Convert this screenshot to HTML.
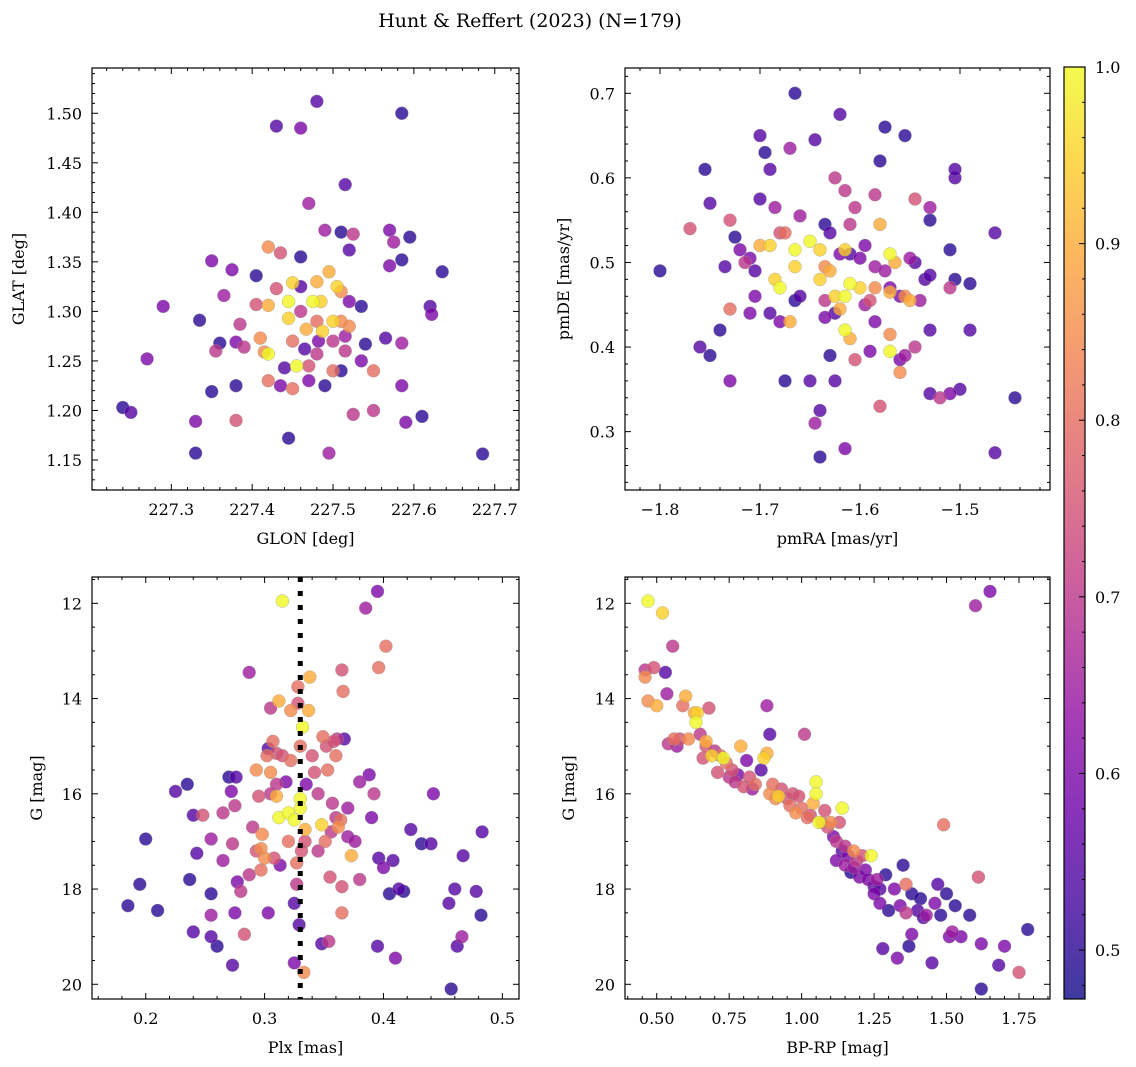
<!DOCTYPE html>
<html><head><meta charset="utf-8"><style>
html,body{margin:0;padding:0;background:#fff;}
svg{display:block;font-family:"DejaVu Serif","Liberation Serif",serif;}
text{font-family:"DejaVu Serif","Liberation Serif",serif;}
</style></head><body>
<svg id="fig" width="1136" height="1067" viewBox="0 0 1136 1067" xmlns="http://www.w3.org/2000/svg">
<defs><linearGradient id="cbg" x1="0" y1="1" x2="0" y2="0"></linearGradient></defs>
<text x="530" y="27" text-anchor="middle" font-size="19">Hunt &amp; Reffert (2023) (N=179)</text>
</svg>
<script>
// ---- data: [x, y, membership probability] ----
const glonGlat = [[227.24,1.203,.5],[227.25,1.198,.55],[227.27,1.252,.6],[227.29,1.305,.6],[227.33,1.189,.6],[227.33,1.157,.5],[227.335,1.291,.5],[227.35,1.351,.6],[227.35,1.219,.5],[227.355,1.26,.7],[227.36,1.268,.5],[227.365,1.316,.65],[227.375,1.342,.6],[227.38,1.19,.75],[227.38,1.225,.5],[227.38,1.269,.6],[227.385,1.287,.7],[227.39,1.264,.7],[227.405,1.307,.75],[227.405,1.336,.5],[227.41,1.273,.85],[227.415,1.259,.85],[227.42,1.23,.8],[227.42,1.306,.9],[227.42,1.365,.85],[227.42,1.257,1.0],[227.43,1.487,.55],[227.43,1.323,.75],[227.435,1.225,.6],[227.435,1.359,.75],[227.44,1.243,.55],[227.445,1.172,.5],[227.445,1.293,.95],[227.445,1.31,1.0],[227.45,1.329,.95],[227.45,1.27,.8],[227.45,1.222,.8],[227.455,1.245,1.0],[227.46,1.485,.6],[227.46,1.355,.5],[227.46,1.30,.7],[227.46,1.325,.55],[227.465,1.262,.55],[227.467,1.282,.9],[227.47,1.409,.65],[227.47,1.23,.6],[227.47,1.245,.75],[227.475,1.31,1.0],[227.48,1.512,.55],[227.48,1.257,.7],[227.48,1.29,.8],[227.48,1.33,.9],[227.482,1.27,.6],[227.485,1.31,.95],[227.487,1.28,.95],[227.49,1.382,.65],[227.49,1.225,.5],[227.495,1.157,.65],[227.495,1.34,.9],[227.5,1.27,.7],[227.5,1.29,.95],[227.5,1.24,.8],[227.51,1.32,.85],[227.505,1.325,.95],[227.515,1.275,.65],[227.515,1.26,.7],[227.52,1.362,.55],[227.52,1.31,.6],[227.52,1.285,.85],[227.51,1.29,.85],[227.51,1.38,.5],[227.51,1.24,.5],[227.515,1.428,.55],[227.525,1.378,.7],[227.525,1.196,.7],[227.535,1.305,.5],[227.535,1.25,.6],[227.54,1.267,.5],[227.55,1.24,.8],[227.55,1.20,.7],[227.565,1.273,.55],[227.57,1.346,.6],[227.57,1.382,.6],[227.575,1.37,.65],[227.585,1.50,.5],[227.585,1.352,.5],[227.585,1.225,.6],[227.585,1.268,.65],[227.59,1.188,.6],[227.595,1.375,.5],[227.61,1.194,.5],[227.62,1.305,.55],[227.622,1.297,.6],[227.635,1.34,.5],[227.685,1.156,.5]];

const pmraPmde = [[-1.80,0.49,.5],[-1.77,0.54,.75],[-1.755,0.61,.5],[-1.76,0.40,.55],[-1.75,0.39,.5],[-1.75,0.57,.55],[-1.74,0.42,.5],[-1.735,0.495,.55],[-1.73,0.445,.8],[-1.73,0.55,.75],[-1.73,0.36,.6],[-1.725,0.53,.5],[-1.72,0.515,.6],[-1.715,0.50,.7],[-1.71,0.505,.6],[-1.705,0.46,.6],[-1.705,0.49,.55],[-1.71,0.44,.6],[-1.70,0.65,.55],[-1.695,0.63,.5],[-1.69,0.61,.55],[-1.69,0.52,.95],[-1.70,0.52,.9],[-1.69,0.44,.55],[-1.685,0.48,.95],[-1.70,0.575,.55],[-1.68,0.43,.6],[-1.68,0.47,1.0],[-1.685,0.565,.65],[-1.68,0.535,.75],[-1.675,0.36,.5],[-1.675,0.535,.8],[-1.665,0.495,.95],[-1.67,0.635,.65],[-1.67,0.43,.9],[-1.665,0.515,1.0],[-1.66,0.555,.65],[-1.665,0.70,.5],[-1.66,0.46,.55],[-1.665,0.455,.5],[-1.65,0.36,.55],[-1.65,0.525,1.0],[-1.64,0.515,.95],[-1.645,0.645,.55],[-1.645,0.31,.65],[-1.64,0.48,.95],[-1.635,0.495,.85],[-1.64,0.325,.55],[-1.635,0.545,.5],[-1.635,0.455,.7],[-1.64,0.27,.5],[-1.635,0.435,.6],[-1.63,0.49,.9],[-1.63,0.535,.55],[-1.625,0.46,.95],[-1.625,0.44,.55],[-1.625,0.60,.7],[-1.62,0.445,.9],[-1.62,0.51,.6],[-1.615,0.46,1.0],[-1.63,0.39,.5],[-1.625,0.36,.55],[-1.615,0.515,.95],[-1.62,0.675,.55],[-1.615,0.585,.7],[-1.61,0.545,.7],[-1.61,0.51,.55],[-1.61,0.475,1.0],[-1.615,0.42,1.0],[-1.61,0.41,.9],[-1.615,0.28,.6],[-1.605,0.385,.75],[-1.605,0.565,.7],[-1.60,0.505,.6],[-1.60,0.47,.95],[-1.595,0.45,.65],[-1.595,0.52,.6],[-1.59,0.455,.75],[-1.59,0.395,.6],[-1.585,0.47,.85],[-1.585,0.43,.6],[-1.585,0.495,.65],[-1.58,0.545,.9],[-1.585,0.58,.7],[-1.58,0.62,.5],[-1.575,0.66,.5],[-1.58,0.33,.75],[-1.575,0.49,.65],[-1.57,0.465,.9],[-1.57,0.47,.6],[-1.57,0.415,.85],[-1.57,0.51,1.0],[-1.57,0.395,1.0],[-1.565,0.50,.9],[-1.56,0.46,.6],[-1.56,0.385,.6],[-1.56,0.37,.85],[-1.555,0.39,.65],[-1.555,0.46,.85],[-1.555,0.65,.5],[-1.55,0.505,.65],[-1.55,0.455,.9],[-1.545,0.50,.55],[-1.545,0.40,.7],[-1.545,0.575,.75],[-1.54,0.455,.65],[-1.535,0.48,.55],[-1.53,0.42,.55],[-1.53,0.345,.55],[-1.52,0.34,.7],[-1.53,0.55,.5],[-1.53,0.565,.65],[-1.53,0.485,.55],[-1.51,0.345,.6],[-1.505,0.48,.5],[-1.51,0.47,.7],[-1.51,0.515,.5],[-1.505,0.60,.55],[-1.505,0.61,.55],[-1.50,0.35,.55],[-1.49,0.42,.55],[-1.49,0.475,.5],[-1.465,0.535,.55],[-1.465,0.275,.55],[-1.445,0.34,.5]];

const plxG = [[0.185,18.35,.5],[0.195,17.9,.5],[0.20,16.95,.5],[0.21,18.45,.5],[0.225,15.95,.55],[0.235,15.8,.5],[0.237,17.8,.5],[0.24,16.45,.55],[0.24,18.9,.55],[0.243,17.25,.55],[0.248,16.45,.75],[0.255,16.95,.65],[0.255,18.1,.5],[0.255,18.55,.65],[0.255,19.0,.55],[0.26,19.2,.5],[0.265,17.4,.65],[0.265,16.4,.7],[0.27,15.65,.5],[0.272,15.95,.6],[0.273,17.05,.7],[0.275,16.25,.7],[0.276,15.65,.55],[0.277,17.85,.6],[0.275,18.5,.6],[0.273,19.6,.55],[0.28,18.05,.7],[0.283,18.95,.75],[0.287,13.45,.65],[0.287,17.7,.7],[0.29,16.7,.7],[0.293,17.2,.75],[0.293,15.5,.85],[0.295,16.05,.75],[0.297,17.6,.8],[0.297,17.15,.85],[0.298,16.85,.85],[0.30,17.35,.85],[0.302,15.2,.8],[0.303,15.05,.55],[0.305,14.2,.7],[0.303,18.5,.6],[0.305,15.55,.85],[0.305,16.0,.7],[0.307,14.9,.8],[0.308,17.35,.75],[0.31,15.8,.7],[0.31,15.15,.75],[0.31,16.05,.9],[0.312,14.05,.9],[0.312,16.5,1.0],[0.313,17.5,.6],[0.315,15.2,.75],[0.315,11.95,1.0],[0.318,15.75,.6],[0.32,16.4,1.0],[0.32,17.0,.8],[0.322,14.25,.85],[0.322,15.3,.8],[0.325,16.55,1.0],[0.325,18.3,.55],[0.325,19.55,.6],[0.327,17.45,.8],[0.327,17.9,.7],[0.328,14.1,.75],[0.328,13.75,.8],[0.329,18.75,.55],[0.33,15.0,.8],[0.33,16.1,1.0],[0.33,16.3,1.0],[0.331,17.2,.75],[0.332,14.6,1.0],[0.333,19.75,.85],[0.334,17.0,.75],[0.334,16.75,.9],[0.335,15.8,.6],[0.337,14.25,.9],[0.338,13.55,.9],[0.34,15.2,.75],[0.342,15.55,.75],[0.345,17.2,.7],[0.345,16.0,.7],[0.348,16.65,.95],[0.348,19.15,.55],[0.349,14.8,.8],[0.351,17.0,.8],[0.352,15.0,.75],[0.353,15.5,.8],[0.354,19.1,.7],[0.355,17.75,.75],[0.356,16.8,.7],[0.357,16.2,.7],[0.358,14.9,.75],[0.36,16.5,.7],[0.36,15.2,.8],[0.361,14.85,.7],[0.362,16.7,.85],[0.364,16.55,.8],[0.365,17.95,.75],[0.365,18.5,.8],[0.365,13.4,.75],[0.366,13.85,.8],[0.367,14.85,.55],[0.37,16.3,.65],[0.37,16.9,.65],[0.373,17.3,.9],[0.376,17.0,.65],[0.38,17.8,.7],[0.38,15.75,.65],[0.385,12.1,.65],[0.388,15.6,.6],[0.39,16.5,.6],[0.392,16.0,.7],[0.395,11.75,.6],[0.396,17.35,.55],[0.396,13.35,.8],[0.395,19.2,.55],[0.40,17.55,.6],[0.402,12.9,.8],[0.405,18.1,.5],[0.408,17.4,.55],[0.41,19.45,.6],[0.413,18.0,.55],[0.417,18.05,.5],[0.423,16.75,.55],[0.432,17.05,.5],[0.44,17.05,.55],[0.442,16.0,.6],[0.455,18.3,.55],[0.457,20.1,.5],[0.46,18.0,.55],[0.462,19.2,.55],[0.466,19.0,.65],[0.467,17.3,.55],[0.478,18.05,.55],[0.482,18.55,.5],[0.483,16.8,.55]];
const plxRef = 0.33;

const bprpG = [[0.46,13.55,.85],[0.46,13.4,.7],[0.47,14.05,.85],[0.47,11.95,1.0],[0.49,13.35,.75],[0.50,14.15,.9],[0.52,12.2,.95],[0.53,13.45,.55],[0.535,13.9,.65],[0.54,14.95,.7],[0.555,12.9,.7],[0.56,14.85,.8],[0.57,15.0,.65],[0.58,14.85,.75],[0.59,14.15,.8],[0.60,13.95,.9],[0.61,14.85,.85],[0.63,14.3,.9],[0.635,14.5,1.0],[0.64,14.3,.95],[0.65,14.75,.7],[0.66,15.25,.75],[0.67,15.0,.75],[0.67,14.9,.9],[0.68,14.2,.75],[0.69,15.2,.95],[0.70,15.1,.7],[0.71,15.55,.75],[0.72,15.2,.8],[0.73,15.25,1.0],[0.74,15.35,.8],[0.75,15.65,.7],[0.76,15.5,.75],[0.77,15.75,.7],[0.78,15.6,.6],[0.79,15.0,.9],[0.80,15.85,.75],[0.81,15.3,.6],[0.82,15.65,.75],[0.83,15.9,.65],[0.84,15.8,.8],[0.86,15.5,.55],[0.87,15.25,.95],[0.88,15.15,.9],[0.88,14.15,.65],[0.89,14.75,.55],[0.89,16.0,.85],[0.90,15.8,.8],[0.91,16.1,.85],[0.92,16.05,.95],[0.93,15.9,.75],[0.95,16.1,.75],[0.96,16.25,.8],[0.97,16.0,.75],[0.98,16.4,.85],[0.99,16.05,.75],[1.0,16.3,.8],[1.01,14.75,.7],[1.02,16.5,.8],[1.03,16.45,.75],[1.04,16.2,.9],[1.05,15.75,1.0],[1.05,16.0,1.0],[1.06,16.6,1.0],[1.07,16.6,.8],[1.08,16.35,.75],[1.09,16.7,.75],[1.10,16.6,.85],[1.11,16.9,.6],[1.12,17.0,.7],[1.12,17.4,.6],[1.13,16.6,.75],[1.14,16.3,1.0],[1.14,17.2,.55],[1.15,17.5,.65],[1.15,17.1,.7],[1.16,17.3,.6],[1.17,17.65,.5],[1.18,17.2,.85],[1.18,17.55,.65],[1.19,17.4,.7],[1.20,17.75,.6],[1.21,17.3,.75],[1.22,17.6,.6],[1.23,17.8,.6],[1.24,17.3,1.0],[1.25,17.95,.55],[1.25,18.1,.6],[1.26,17.8,.65],[1.27,18.0,.55],[1.27,18.3,.6],[1.28,19.25,.55],[1.29,17.7,.5],[1.30,18.45,.5],[1.32,18.0,.6],[1.33,19.45,.6],[1.34,18.35,.6],[1.35,17.5,.5],[1.36,17.9,.8],[1.36,18.5,.7],[1.37,19.2,.5],[1.38,18.95,.6],[1.38,18.1,.5],[1.40,18.45,.55],[1.41,18.2,.5],[1.42,18.6,.55],[1.43,18.55,.65],[1.45,19.55,.55],[1.46,18.3,.6],[1.47,17.9,.55],[1.48,18.55,.5],[1.49,16.65,.8],[1.50,18.1,.5],[1.51,19.0,.6],[1.52,18.9,.65],[1.53,18.35,.5],[1.55,19.0,.6],[1.58,18.55,.5],[1.60,12.05,.65],[1.61,17.75,.75],[1.62,20.1,.5],[1.62,19.15,.6],[1.65,11.75,.6],[1.68,19.6,.55],[1.70,19.2,.6],[1.75,19.75,.75],[1.78,18.85,.5]];

const glonTicks = [227.3,227.4,227.5,227.6,227.7];
const glatTicks = [1.15,1.20,1.25,1.30,1.35,1.40,1.45,1.50];
const pmraTicks = [-1.8,-1.7,-1.6,-1.5];
const pmdeTicks = [0.3,0.4,0.5,0.6,0.7];
const plxTicks = [0.2,0.3,0.4,0.5];
const gTicks = [12,14,16,18,20];
const bprpTicks = [0.50,0.75,1.00,1.25,1.50,1.75];
const cbTicks = [0.5,0.6,0.7,0.8,0.9,1.0];
const cMin = 0.4723, cMax = 1.0;

const NS = 'http://www.w3.org/2000/svg';
const svg = document.getElementById('fig');
function el(tag, attrs, parent){const e=document.createElementNS(NS,tag);for(const k in attrs)e.setAttribute(k,attrs[k]);(parent||svg).appendChild(e);return e;}

const plasma=['#0d0887','#41049d','#6a00a8','#8f0da4','#b12a90','#cc4778','#e16462','#f2844b','#fca636','#fcce25','#f0f921'];
function hex(h){return [1,3,5].map(i=>parseInt(h.substr(i,2),16));}
function cmap(v){let t=(v-cMin)/(cMax-cMin);t=Math.max(0,Math.min(1,t));const s=t*10,i=Math.min(9,Math.floor(s)),f=s-i;const a=hex(plasma[i]),b=hex(plasma[i+1]);return 'rgb('+a.map((c,k)=>Math.round(c+(b[k]-c)*f)).join(',')+')';}

function panel(cfg){
  const {x0,x1,y0,y1,xd,yd,xt,yt,xminor,yminor,xfmt,yfmt,xlabel,ylabel,data,name}=cfg;
  const g=el('g',{});
  
  
  const sx=v=>x0+(v-xd[0])/(xd[1]-xd[0])*(x1-x0);
  const sy=v=>y0+(v-yd[0])/(yd[1]-yd[0])*(y1-y0);
  const pg=el('g',{},g);
  
  
  data.slice().sort((a,b)=>a[2]-b[2]).forEach(d=>{
    const c=el('circle',{cx:sx(d[0]).toFixed(1),cy:sy(d[1]).toFixed(1),r:6.5,fill:cmap(d[2]),'fill-opacity':0.8,stroke:'#999','stroke-width':0.5,'stroke-opacity':0.7},pg);
    
    
  });
  if(cfg.vline!==undefined){
    const l=el('line',{x1:sx(cfg.vline),x2:sx(cfg.vline),y1:y0,y2:y1,stroke:'#000','stroke-width':5,'stroke-dasharray':'5 9'},g);
    
    
  }
  const tk=el('g',{stroke:'#000','stroke-width':1},g);
  const lo=Math.min(xd[0],xd[1]),hi=Math.max(xd[0],xd[1]);
  const xs=xt[1]-xt[0];
  for(let v=xt[0]-xs*5;v<=hi+1e-9;v+=xs/xminor){if(v<lo-1e-9)continue;const p=sx(v);const maj=Math.abs(((v-xt[0])/xs)-Math.round((v-xt[0])/xs))<1e-6;const L=maj?6:3;
    el('line',{x1:p,x2:p,y1:y1,y2:y1-L},tk);el('line',{x1:p,x2:p,y1:y0,y2:y0+L},tk);}
  const ylo=Math.min(yd[0],yd[1]),yhi=Math.max(yd[0],yd[1]);
  const ys=yt[1]-yt[0];
  for(let v=yt[0]-ys*5;v<=yhi+1e-9;v+=ys/yminor){if(v<ylo-1e-9)continue;const p=sy(v);const maj=Math.abs(((v-yt[0])/ys)-Math.round((v-yt[0])/ys))<1e-6;const L=maj?6:3;
    el('line',{y1:p,y2:p,x1:x0,x2:x0+L},tk);el('line',{y1:p,y2:p,x1:x1,x2:x1-L},tk);}
  xt.forEach(v=>{const t=el('text',{x:sx(v),y:y1+25,'text-anchor':'middle','font-size':16},g);t.textContent=xfmt(v);
    
    });
  yt.forEach(v=>{const t=el('text',{x:x0-10,y:sy(v)+6,'text-anchor':'end','font-size':16},g);t.textContent=yfmt(v);
    
    });
  const fr=el('rect',{x:x0,y:y0,width:x1-x0,height:y1-y0,fill:'none',stroke:'#000','stroke-width':1.2},g);
  
  
  const xl=el('text',{x:(x0+x1)/2,y:y1+54,'text-anchor':'middle','font-size':16},g);xl.textContent=xlabel;
  
  
  const yx=cfg.ylx,yc=(y0+y1)/2;
  const yl=el('text',{x:yx,y:yc,'text-anchor':'middle','font-size':16,transform:'rotate(-90 '+yx+' '+yc+')'},g);yl.textContent=ylabel;
  
  
}
const f2=v=>v.toFixed(2), f1=v=>v.toFixed(1), f0=v=>v.toFixed(0), m1=v=>(v<0?'\u2212':'')+Math.abs(v).toFixed(1);
panel({name:'glon-glat-panel',x0:92,x1:519,y0:68,y1:490,xd:[227.2019,227.730],yd:[1.5457,1.1197],xt:glonTicks,yt:glatTicks,xminor:5,yminor:5,xfmt:f1,yfmt:f2,xlabel:'GLON [deg]',ylabel:'GLAT [deg]',data:glonGlat,ylx:24});
panel({name:'proper-motion-panel',x0:625,x1:1050,y0:68,y1:490,xd:[-1.835,-1.41],yd:[0.7299,0.231],xt:pmraTicks,yt:pmdeTicks,xminor:5,yminor:5,xfmt:m1,yfmt:f1,xlabel:'pmRA [mas/yr]',ylabel:'pmDE [mas/yr]',data:pmraPmde,ylx:569});
panel({name:'parallax-mag-panel',x0:92,x1:519,y0:577,y1:999,xd:[0.1548,0.514],yd:[11.447,20.309],xt:plxTicks,yt:gTicks,xminor:5,yminor:4,xfmt:f1,yfmt:f0,xlabel:'Plx [mas]',ylabel:'G [mag]',data:plxG,vline:plxRef,ylx:42});
panel({name:'cmd-panel',x0:625,x1:1050,y0:577,y1:999,xd:[0.3905,1.857],yd:[11.447,20.309],xt:bprpTicks,yt:gTicks,xminor:5,yminor:4,xfmt:f2,yfmt:f0,xlabel:'BP-RP [mag]',ylabel:'G [mag]',data:bprpG,ylx:574});

// colorbar
const grad=document.getElementById('cbg');
plasma.forEach((c,i)=>el('stop',{offset:(i*10)+'%','stop-color':c,'stop-opacity':0.8},grad));
const cx0=1064,cx1=1085,cy0=67,cy1=999;
const cby=v=>cy1-(v-cMin)/(cMax-cMin)*(cy1-cy0);
const cb=el('rect',{x:cx0,y:cy0,width:cx1-cx0,height:cy1-cy0,fill:'url(#cbg)',stroke:'#000','stroke-width':1.2});


for(let v=0.48;v<=1.0001;v+=0.02){const p=cby(v);const maj=Math.abs(v*10-Math.round(v*10))<1e-6;el('line',{x1:cx1,x2:cx1-(maj?6:3),y1:p,y2:p,stroke:'#000','stroke-width':1});}
cbTicks.forEach(v=>{const t=el('text',{x:1095,y:cby(v)+6,'font-size':16});t.textContent=v.toFixed(1);
  
  });
</script>
</body></html>
